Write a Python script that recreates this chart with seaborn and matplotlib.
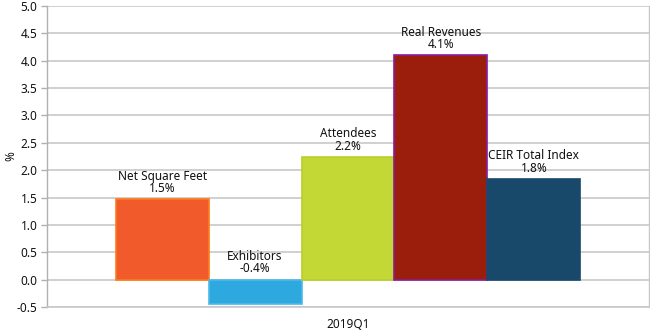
import matplotlib
matplotlib.use("Agg")
import matplotlib.pyplot as plt
import seaborn as sns
import pandas as pd

quarter = ["2019Q1"]
metrics = ["Net Square Feet", "Exhibitors", "Attendees", "Real Revenues", "CEIR Total Index"]
values = [1.47, -0.44, 2.24, 4.10, 1.84]
fill_colors = ["#F15A2B", "#2EA9E0", "#C3D834", "#9B1D0C", "#18496A"]
edge_colors = ["#FF7A1A", "#4DB8E8", "#B8CF2A", "#8A1C9C", "#18496A"]
y_ticks = [-0.5, 0.0, 0.5, 1.0, 1.5, 2.0, 2.5, 3.0, 3.5, 4.0, 4.5, 5.0]

df = pd.DataFrame({
    "quarter": quarter * len(metrics),
    "metric": metrics,
    "value": values,
})

sns.set_theme(style="white")
plt.rcParams["font.family"] = ["Noto Sans", "DejaVu Sans"]

fig = plt.figure(figsize=(6.5, 3.3), dpi=100)
ax = fig.add_axes([47 / 650, 23 / 330, 602 / 650, 301 / 330])

sns.barplot(data=df, x="quarter", y="value", hue="metric", hue_order=metrics,
            palette=fill_colors, width=0.772, legend=False, ax=ax,
            saturation=1, linewidth=0)

for patch, ec in zip(ax.patches, edge_colors):
    patch.set_edgecolor(ec)
    patch.set_linewidth(1.2)

for patch, name, v in zip(ax.patches, metrics, values):
    cx = patch.get_x() + patch.get_width() / 2
    base = max(v, 0)
    ax.annotate(f"{name}\n{v:.1f}%", xy=(cx, base), xytext=(0, 3),
                textcoords="offset points", ha="center", va="bottom",
                fontsize=8.5, color="#111111", linespacing=0.95)

ax.set_ylim(-0.5, 5.0)
ax.set_xlim(-0.5, 0.5)
ax.set_yticks(y_ticks)
ax.set_yticklabels([f"{t:.1f}" for t in y_ticks])
ax.yaxis.grid(True, color="#C8C8C8", linewidth=1.2)
ax.set_axisbelow(True)

ax.spines["top"].set_visible(False)
ax.spines["bottom"].set_color("#C8C8C8")
ax.spines["bottom"].set_linewidth(1.2)
ax.spines["left"].set_color("#B0B0B0")
ax.spines["right"].set_color("#C8C8C8")
ax.spines["left"].set_linewidth(1)
ax.spines["right"].set_linewidth(1)

ax.tick_params(axis="y", which="both", left=True, length=4, width=1,
               color="#B0B0B0", labelsize=8.5, labelcolor="#111111", pad=3)
ax.tick_params(axis="x", bottom=False, labelsize=8.5, labelcolor="#111111", pad=2)
ax.set_xlabel("")
ax.set_ylabel("%", fontsize=8.5, color="#111111")
ax.yaxis.set_label_coords(-0.05, 0.5)

fig.savefig("out.png", dpi=100)
